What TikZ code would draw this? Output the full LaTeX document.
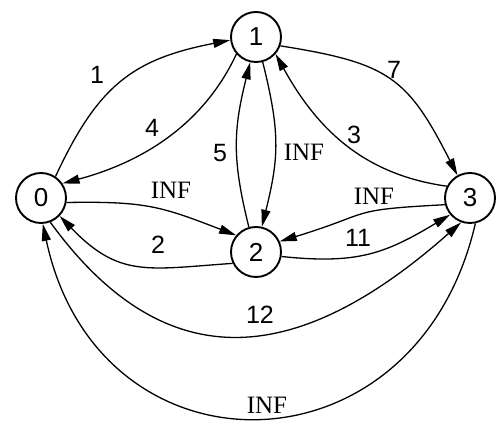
\documentclass[tikz,border=0pt]{standalone}
\usepackage{fontspec}
\setmainfont{Liberation Serif}
\newfontfamily\numfont{Liberation Sans}
\usetikzlibrary{arrows.meta}
\begin{document}
\begin{tikzpicture}[x=1pt,y=1pt,
  vertex/.style={circle,draw,line width=1.9pt,minimum size=50pt,inner sep=0pt,font=\numfont\fontsize{26}{26}\selectfont},
  edge/.style={line width=1.3pt,-{Triangle[length=17pt,width=9pt]}},
  num/.style={font=\numfont\fontsize{25}{25}\selectfont,inner sep=0pt},
  inf/.style={font=\fontsize{25}{25}\selectfont,inner sep=0pt}]
\useasboundingbox (0,0) rectangle (496,422);
\node[vertex] (n0) at (41,224) {0};
\node[vertex] (n1) at (256,385) {1};
\node[vertex] (n2) at (256,170) {2};
\node[vertex] (n3) at (470,224) {3};
% edges
\draw[edge] (n0.56) .. controls +(65:100) and +(191:100) .. (n1.187);
\draw[edge] (n1.221) .. controls +(245:80) and +(15:80) .. (n0.34);
\draw[edge] (n1.-20) .. controls +(-9:110) and +(117:110) .. (n3.119);
\draw[edge] (n3.153) .. controls +(172:85) and +(299:85) .. (n1.-41);
\draw[edge] (n1.-75) .. controls +(-76:72) and +(76:72) .. (n2.77);
\draw[edge] (n2.106) .. controls +(104:70) and +(256:70) .. (n1.257);
\draw[edge] (n0.-10) .. controls +(1:80) and +(159:80) .. (n2.140);
\draw[edge] (n2.206) .. controls +(184:86) and +(314:86) .. (n0.-44);
\draw[edge] (n3.195) .. controls +(183:100) and +(17:100) .. (n2.24);
\draw[edge] (n2.-10) .. controls +(-6:76) and +(211:76) .. (n3.220);
\draw[edge] (n0.-69) .. controls +(-54:206) and +(221.5:206) .. (n3.-110);
\draw[edge] (n3.-78) .. controls +(-103:265) and +(-78:265) .. (n0.-86);
% labels
\node[num] (l01) at (97,347) {1};
\node[num] (l10) at (152,294) {4};
\node[num] (l13) at (394,352) {7};
\node[num] (l31) at (354,287) {3};
\node[inf] (l12) at (304,270) {INF};
\node[num] (l21) at (220,269) {5};
\node[inf] (l02) at (171,232) {INF};
\node[num] (l20) at (158,177) {2};
\node[inf] (l32) at (374,226) {INF};
\node[num] (l23) at (358,184) {11};
\node[num] (l03) at (260,107) {12};
\node[inf] (l30) at (267,17) {INF};
\end{tikzpicture}
\end{document}
